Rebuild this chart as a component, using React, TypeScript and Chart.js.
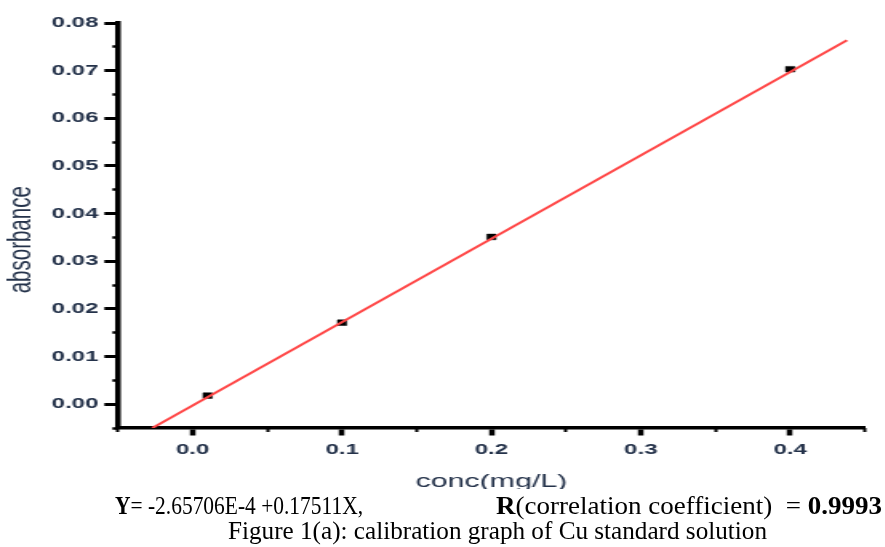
import React, { useEffect, useLayoutEffect, useRef } from 'react';
import { Chart, registerables } from 'chart.js';

Chart.register(...registerables);

// ---- data ----
const concX = [0.01, 0.1, 0.2, 0.4];
const absorbanceY = [0.0018, 0.0171, 0.0351, 0.0703];
const fitLineX = [-0.027, 0.438];
const fitLineY = [-0.005, 0.0764];
const xMajorTicks = [0.0, 0.1, 0.2, 0.3, 0.4];
const xMinorTicks = [-0.05, 0.05, 0.15, 0.25, 0.35, 0.45];
const yMajorTicks = [0.0, 0.01, 0.02, 0.03, 0.04, 0.05, 0.06, 0.07, 0.08];
const yMinorTicks = [-0.005, 0.005, 0.015, 0.025, 0.035, 0.045, 0.055, 0.065, 0.075];
const xMin = -0.05;
const xMax = 0.45;
const yMin = -0.005;
const yMax = 0.08;
const xTitle = 'conc(mg/L)';
const yTitle = 'absorbance';
const equationText = '-2.65706E-4 +0.17511X,';
const rText = '(correlation coefficient)  = ';
const rValue = '0.9993';
const figureCaption = 'Figure 1(a): calibration graph of Cu standard solution';

// ---- layout ----
const STRETCH = 1.6;
const CW = 553;
const CH = 495;
const LABEL_COLOR = '#24324a';
const SANS = '"Liberation Sans", Arial, sans-serif';
const SERIF = '"Liberation Serif", "Times New Roman", serif';

export default function App() {
  const canvasRef = useRef<HTMLCanvasElement | null>(null);
  const eqRef = useRef<HTMLSpanElement | null>(null);
  const rRef = useRef<HTMLSpanElement | null>(null);
  const figRef = useRef<HTMLSpanElement | null>(null);

  useLayoutEffect(() => {
    const fit = (el: HTMLSpanElement | null, target: number) => {
      if (!el) return;
      el.style.transform = 'none';
      const w = el.getBoundingClientRect().width;
      if (w > 0) el.style.transform = `scaleX(${target / w})`;
    };
    fit(eqRef.current, 248);
    fit(rRef.current, 386);
    fit(figRef.current, 539);
  }, []);

  useEffect(() => {
    const canvas = canvasRef.current;
    if (!canvas) return;
    const chart = new Chart(canvas, {
      type: 'scatter',
      data: {
        datasets: [
          {
            label: 'fit',
            data: fitLineX.map((x, i) => ({ x, y: fitLineY[i] })),
            showLine: true,
            borderColor: 'rgb(255,70,70)',
            borderWidth: 2,
            pointRadius: 0,
            order: 0,
          },
          {
            label: 'standards',
            data: concX.map((x, i) => ({ x, y: absorbanceY[i] })),
            showLine: false,
            pointStyle: 'rect',
            pointRadius: 4,
            backgroundColor: '#000',
            borderColor: '#000',
            borderWidth: 0.5,
            order: 1,
          },
        ],
      },
      options: {
        responsive: false,
        animation: false,
        devicePixelRatio: 1,
        layout: { padding: { left: 0, right: 12.4, top: 23, bottom: 0 } },
        plugins: { legend: { display: false }, tooltip: { enabled: false } },
        scales: {
          x: {
            type: 'linear',
            position: 'bottom',
            weight: 1,
            min: xMin,
            max: xMax,
            afterBuildTicks: (s: any) => {
              s.ticks = xMajorTicks.map((v) => ({ value: v }));
            },
            afterFit: (s: any) => {
              s.height = 67;
            },
            ticks: {
              autoSkip: false,
              maxRotation: 0,
              padding: 5.5,
              color: LABEL_COLOR,
              font: { family: SANS, size: 15, weight: 'bold' },
              callback: (v: any) => Number(v).toFixed(1),
            },
            grid: { drawOnChartArea: false, drawTicks: true, tickLength: 7.5, tickWidth: 3.5, tickColor: '#000' },
            border: { display: true, color: '#000', width: 3.5 },
            title: {
              display: true,
              text: xTitle,
              color: LABEL_COLOR,
              font: { family: SANS, size: 19 },
              padding: { top: 0, bottom: 1.5 },
            },
          },
          x2: {
            type: 'linear',
            position: 'bottom',
            weight: 0,
            min: xMin,
            max: xMax,
            afterBuildTicks: (s: any) => {
              s.ticks = xMinorTicks.map((v) => ({ value: v }));
            },
            afterFit: (s: any) => {
              s.height = 0;
            },
            ticks: { display: false, autoSkip: false },
            grid: { drawOnChartArea: false, drawTicks: true, tickLength: 4, tickWidth: 2, tickColor: '#000' },
            border: { display: false },
          },
          y: {
            type: 'linear',
            position: 'left',
            weight: 1,
            min: yMin,
            max: yMax,
            afterBuildTicks: (s: any) => {
              s.ticks = yMajorTicks.map((v) => ({ value: v }));
            },
            afterFit: (s: any) => {
              s.width = 73.75;
            },
            ticks: {
              autoSkip: false,
              padding: 3.75,
              color: LABEL_COLOR,
              font: { family: SANS, size: 15, weight: 'bold' },
              callback: (v: any) => Number(v).toFixed(2),
            },
            grid: { drawOnChartArea: false, drawTicks: true, tickLength: 8.5, tickWidth: 3, tickColor: '#000' },
            border: { display: true, color: '#000', width: 3.5 },
            title: {
              display: true,
              text: yTitle + '     ',
              color: LABEL_COLOR,
              font: { family: SANS, size: 20.5 },
              padding: { top: 1.5, bottom: 0 },
            },
          },
          y2: {
            type: 'linear',
            position: 'left',
            weight: 0,
            min: yMin,
            max: yMax,
            afterBuildTicks: (s: any) => {
              s.ticks = yMinorTicks.map((v) => ({ value: v }));
            },
            afterFit: (s: any) => {
              s.width = 0;
            },
            ticks: { display: false, autoSkip: false },
            grid: { drawOnChartArea: false, drawTicks: true, tickLength: 3.5, tickWidth: 2.5, tickColor: '#000' },
            border: { display: false },
          },
        },
      } as any,
    });
    return () => chart.destroy();
  }, []);

  const captionText: React.CSSProperties = {
    position: 'absolute',
    top: 0,
    display: 'inline-block',
    transformOrigin: '0 0',
    whiteSpace: 'pre',
  };

  return (
    <div
      style={{
        position: 'fixed',
        left: 0,
        top: 0,
        width: 885,
        height: 547,
        overflow: 'hidden',
        background: '#fff',
      }}
    >
      <div
        style={{
          position: 'absolute',
          left: 0,
          top: 0,
          width: CW,
          height: CH,
          transform: `scaleX(${STRETCH})`,
          transformOrigin: '0 0',
        }}
      >
        <canvas ref={canvasRef} width={CW} height={CH} style={{ display: 'block' }} />
      </div>
      <div
        style={{
          position: 'absolute',
          left: 0,
          top: 489,
          width: 885,
          height: 28,
          background: '#fff',
          fontFamily: SERIF,
          fontSize: 25,
          lineHeight: '28px',
          color: '#000',
        }}
      >
        <span ref={eqRef} style={{ ...captionText, left: 115, top: 3 }}>
          <b>Y</b>= {equationText}
        </span>
        <span ref={rRef} style={{ ...captionText, left: 496, top: 3 }}>
          <b>R</b>
          {rText}
          <b>{rValue}</b>
        </span>
      </div>
      <div
        style={{
          position: 'absolute',
          left: 0,
          top: 517,
          width: 885,
          height: 30,
          fontFamily: SERIF,
          fontSize: 25,
          lineHeight: '28px',
          color: '#000',
        }}
      >
        <span ref={figRef} style={{ ...captionText, left: 228 }}>
          {figureCaption}
        </span>
      </div>
    </div>
  );
}
